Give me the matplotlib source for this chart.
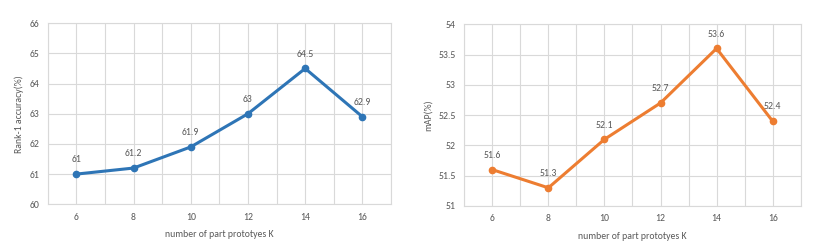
import matplotlib.pyplot as plt
import numpy as np

# data
k_values = [6, 8, 10, 12, 14, 16]
rank1 = [61, 61.2, 61.9, 63, 64.5, 62.9]
rank1_labels = ['61', '61.2', '61.9', '63', '64.5', '62.9']
mAP = [51.6, 51.3, 52.1, 52.7, 53.6, 52.4]
mAP_labels = ['51.6', '51.3', '52.1', '52.7', '53.6', '52.4']

BLUE = '#2E75B6'
ORANGE = '#ED7D31'
GRID = '#D9D9D9'
TEXT = '#595959'

plt.rcParams['font.family'] = ['Carlito', 'Lato', 'DejaVu Sans']

fig = plt.figure(figsize=(8.31, 2.47), dpi=100)
ax1 = fig.add_axes([0.0574, 0.173, 0.4131, 0.733])
ax2 = fig.add_axes([0.5587, 0.166, 0.4048, 0.736])


def style_panel(ax, values, labels, color, yticks, ylabel):
    x = np.arange(len(k_values))
    ax.plot(x, values, color=color, lw=2.2, marker='o', ms=4.5, zorder=3)
    for xi, v, lab in zip(x, values, labels):
        ax.annotate(lab, (xi, v), xytext=(0, 7), textcoords='offset points',
                    ha='center', va='bottom', fontsize=7, color=TEXT)
    ax.set_xlim(-0.5, len(k_values) - 0.5)
    ax.set_ylim(yticks[0], yticks[-1])
    ax.set_yticks(yticks)
    ax.set_yticklabels([f'{t:g}' for t in yticks])
    ax.set_xticks(x)
    ax.set_xticklabels([str(k) for k in k_values])
    ax.set_xticks(np.arange(-0.5, len(k_values), 1.0), minor=True)
    ax.grid(True, which='both', color=GRID, lw=0.8)
    ax.set_axisbelow(True)
    for s in ax.spines.values():
        s.set_color(GRID)
        s.set_linewidth(0.8)
    ax.tick_params(which='both', length=0, labelsize=7, colors=TEXT, pad=6)
    ax.set_xlabel('number of part prototyes K', fontsize=7, color=TEXT, labelpad=6)
    ax.set_ylabel(ylabel, fontsize=7, color=TEXT, labelpad=4)


style_panel(ax1, rank1, rank1_labels, BLUE, [60, 61, 62, 63, 64, 65, 66], 'Rank-1 accuracy(%)')
style_panel(ax2, mAP, mAP_labels, ORANGE, [51, 51.5, 52, 52.5, 53, 53.5, 54], 'mAP(%)')

fig.savefig('out.png', dpi=100, facecolor='white')
